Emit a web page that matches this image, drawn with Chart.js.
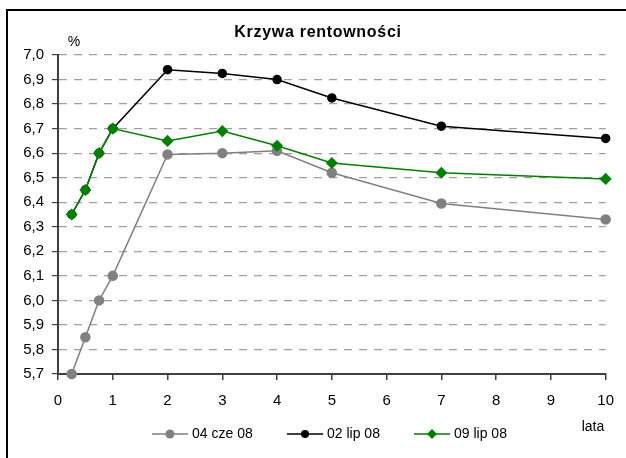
<!DOCTYPE html>
<html>
<head>
<meta charset="utf-8">
<script src="https://cdn.jsdelivr.net/npm/chart.js@4"></script>
<style>
  html, body { margin: 0; padding: 0; background: #fff; }
  #wrap { position: relative; width: 626px; height: 458px; }
</style>
</head>
<body>
<div id="wrap"><canvas id="c" width="626" height="458"></canvas></div>
<script>
// tenors in years
const lata = [0.25, 0.5, 0.75, 1, 2, 3, 4, 5, 7, 10];
const seriesNames = ['04 cze 08', '02 lip 08', '09 lip 08'];
const cze04 = [5.70, 5.85, 6.00, 6.10, 6.595, 6.60, 6.61, 6.52, 6.395, 6.33];
const lip02 = [6.35, 6.45, 6.60, 6.70, 6.94, 6.925, 6.90, 6.825, 6.71, 6.66];
const lip09 = [6.35, 6.45, 6.60, 6.70, 6.65, 6.69, 6.63, 6.56, 6.52, 6.495];
const xTicks = [0, 1, 2, 3, 4, 5, 6, 7, 8, 9, 10];
const yMin = 5.7, yMax = 7.0, yStep = 0.1;

function pts(vals) {
    return vals.map(function(v, i) { return {x: lata[i], y: v}; });
}

const FONT = '"Liberation Sans", Arial, sans-serif';

// frame, title, labels and legend
const extras = {
    id: 'extras',
    beforeDraw(chart) {
        const ctx = chart.ctx;
        ctx.save();
        ctx.fillStyle = '#000';
        ctx.fillRect(6, 9, 2, 449);
        ctx.fillRect(6, 9, 620, 2);
        ctx.restore();
    },
    afterDraw(chart) {
        const ctx = chart.ctx;
        ctx.save();
        ctx.fillStyle = '#000';
        ctx.textBaseline = 'middle';
        ctx.textAlign = 'center';
        ctx.font = 'bold 16px ' + FONT;
        ctx.letterSpacing = '0.7px';
        ctx.fillText('Krzywa rentowności', 318, 33);
        ctx.letterSpacing = '0px';
        ctx.font = '14px ' + FONT;
        ctx.fillText('%', 74, 42);
        ctx.fillText('lata', 593, 427);

        // legend
        const items = [
            {x: 152, color: '#808080', style: 'circle', r: 4.5},
            {x: 287, color: '#000000', style: 'circle', r: 4},
            {x: 414, color: '#008000', style: 'diamond', r: 5}
        ];
        const ly = 434;
        items.forEach(function(it, i) {
            ctx.strokeStyle = it.color;
            ctx.fillStyle = it.color;
            ctx.lineWidth = 1.5;
            ctx.beginPath();
            ctx.moveTo(it.x, ly);
            ctx.lineTo(it.x + 36, ly);
            ctx.stroke();
            const cx = it.x + 18;
            ctx.beginPath();
            if (it.style === 'circle') {
                ctx.arc(cx, ly, it.r, 0, Math.PI * 2);
            } else {
                ctx.moveTo(cx, ly - it.r);
                ctx.lineTo(cx + it.r, ly);
                ctx.lineTo(cx, ly + it.r);
                ctx.lineTo(cx - it.r, ly);
                ctx.closePath();
            }
            ctx.fill();
            ctx.fillStyle = '#000';
            ctx.textAlign = 'left';
            ctx.fillText(seriesNames[i], it.x + 40, ly);
        });
        ctx.restore();
    }
};

new Chart(document.getElementById('c'), {
    type: 'line',
    data: {
        datasets: [
            {label: seriesNames[0], data: pts(cze04), borderColor: '#808080', backgroundColor: '#808080',
             borderWidth: 1.5, pointRadius: 4.5, pointStyle: 'circle', order: 2, clip: false},
            {label: seriesNames[1], data: pts(lip02), borderColor: '#000000', backgroundColor: '#000000',
             borderWidth: 1.5, pointRadius: 4, pointStyle: 'circle', order: 1, clip: false},
            {label: seriesNames[2], data: pts(lip09), borderColor: '#008000', backgroundColor: '#008000',
             borderWidth: 1.5, pointRadius: 5, pointStyle: 'rectRot', order: 0, clip: false}
        ]
    },
    options: {
        responsive: false,
        animation: false,
        layout: {padding: {left: 0, right: 19, top: 55, bottom: 0}},
        plugins: {legend: {display: false}, title: {display: false}, tooltip: {enabled: false}},
        elements: {line: {tension: 0}, point: {borderWidth: 0, hoverRadius: 5}},
        scales: {
            x: {
                type: 'linear',
                min: 0, max: 10,
                afterBuildTicks(scale) { scale.ticks = xTicks.map(function(v) { return {value: v}; }); },
                afterFit(scale) { scale.height = 84; },
                grid: {drawOnChartArea: false, drawTicks: true, tickLength: 6, color: '#404040', lineWidth: 1.5},
                border: {display: true, color: '#404040', width: 2},
                ticks: {color: '#000', padding: 12, maxRotation: 0, font: {family: FONT, size: 15}}
            },
            y: {
                min: yMin, max: yMax,
                afterBuildTicks(scale) {
                    const t = [];
                    for (let i = 0; i <= Math.round((yMax - yMin) / yStep); i++) {
                        t.push({value: Math.round((yMin + i * yStep) * 10) / 10});
                    }
                    scale.ticks = t;
                },
                afterFit(scale) { scale.width = 58; },
                grid: {drawTicks: true, tickLength: 6, color: '#a0a0a0', tickColor: '#404040', lineWidth: 1.2},
                border: {display: true, color: '#404040', width: 2, dash: [8, 7]},
                ticks: {
                    color: '#000', padding: 8, font: {family: FONT, size: 15},
                    callback: function(v) { return Number(v).toFixed(1).replace('.', ','); }
                }
            }
        }
    },
    plugins: [extras]
});
</script>
</body>
</html>
